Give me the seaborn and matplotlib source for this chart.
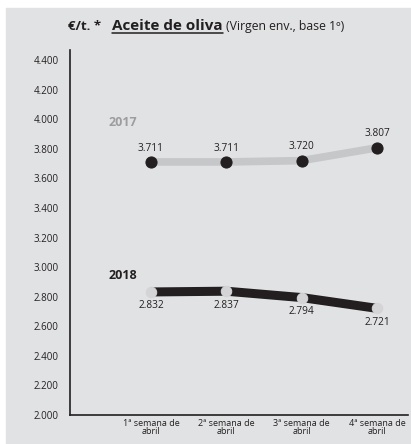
import matplotlib
matplotlib.use("Agg")
import matplotlib.pyplot as plt
import seaborn as sns
import pandas as pd
from matplotlib.patches import Rectangle
from matplotlib.lines import Line2D

# data (€/t, in thousands)
weeks = ["1ª semana de\nabril", "2ª semana de\nabril", "3ª semana de\nabril", "4ª semana de\nabril"]
prices_2017 = [3.711, 3.711, 3.720, 3.807]
prices_2018 = [2.832, 2.837, 2.794, 2.721]
yticks = [2.0, 2.2, 2.4, 2.6, 2.8, 3.0, 3.2, 3.4, 3.6, 3.8, 4.0, 4.2, 4.4]

df = pd.DataFrame({"x": range(len(weeks)), "y2017": prices_2017, "y2018": prices_2018})

sns.set_style("white")
plt.rcParams["font.family"] = ["Open Sans", "DejaVu Sans"]

bg = "#e1e2e4"
fig = plt.figure(figsize=(4.11, 4.44), dpi=100)
fig.patch.set_facecolor("white")
fig.patches.append(Rectangle((6 / 411, 0), 1 - 6 / 411, 1 - 8 / 444,
                             transform=fig.transFigure, color=bg, zorder=-5))

ax = fig.add_axes([70 / 411, 1 - 415 / 444, (408 - 70) / 411, (415 - 50) / 444])
ax.set_facecolor("none")

# 2017 line: light grey with black dots
sns.lineplot(data=df, x="x", y="y2017", ax=ax, color="#c6c7c9", linewidth=5.5,
             marker="o", markersize=8, markerfacecolor="#231f20",
             markeredgecolor="#231f20", solid_capstyle="butt")
# 2018 line: black with grey dots
sns.lineplot(data=df, x="x", y="y2018", ax=ax, color="#231f20", linewidth=6.5,
             marker="o", markersize=7.5, markerfacecolor="#d4d4d6",
             markeredgecolor="#d4d4d6", solid_capstyle="butt")

for i, v in enumerate(prices_2017):
    ax.annotate(f"{v:.3f}", (i, v), xytext=(0, 6), textcoords="offset points",
                ha="center", va="bottom", fontsize=7.3, color="#231f20")
for i, v in enumerate(prices_2018):
    ax.annotate(f"{v:.3f}", (i, v), xytext=(0, -6), textcoords="offset points",
                ha="center", va="top", fontsize=7.3, color="#231f20")

ax.text(-0.57, 3.98, "2017", fontsize=9, fontweight="bold", color="#9d9d9f",
        ha="left", va="center")
ax.text(-0.57, 2.94, "2018", fontsize=9, fontweight="bold", color="#231f20",
        ha="left", va="center")

ax.set_xlim(-1.075, 3.41)
ax.set_ylim(2.0, 4.468)
ax.set_xticks(range(len(weeks)))
ax.set_xticklabels(weeks, fontsize=6.5, linespacing=0.85)
ax.set_yticks(yticks)
ax.set_yticklabels([f"{t:.3f}" for t in yticks], fontsize=7)
ax.tick_params(axis="x", direction="in", length=8.5, width=1, color="#555555",
               pad=3, labelcolor="#231f20")
ax.tick_params(axis="y", length=0, pad=8, labelcolor="#231f20")
ax.set_xlabel("")
ax.set_ylabel("")
for s in ["top", "right"]:
    ax.spines[s].set_visible(False)
for s in ["left", "bottom"]:
    ax.spines[s].set_color("#231f20")
    ax.spines[s].set_linewidth(1.2)

# title pieces
ty = 1 - 30 / 444
t1 = fig.text(101 / 411, ty, "€/t. *", fontsize=9.5, fontweight="bold", color="#231f20",
              ha="right", va="baseline")
t2 = fig.text(112 / 411, ty, "Aceite de oliva", fontsize=11, fontweight="bold",
              color="#231f20", ha="left", va="baseline")
fig.canvas.draw()
bb = t2.get_window_extent().transformed(fig.transFigure.inverted())
t3 = fig.text(bb.x1 + 3 / 411, ty, "(Virgen env., base 1º)", fontsize=8.8,
              color="#231f20", ha="left", va="baseline")
uy = ty - 3 / 444
fig.add_artist(Line2D([bb.x0, bb.x1], [uy, uy], transform=fig.transFigure,
                      color="#231f20", linewidth=1.1))

fig.savefig("out.png", dpi=100, facecolor=fig.get_facecolor())
